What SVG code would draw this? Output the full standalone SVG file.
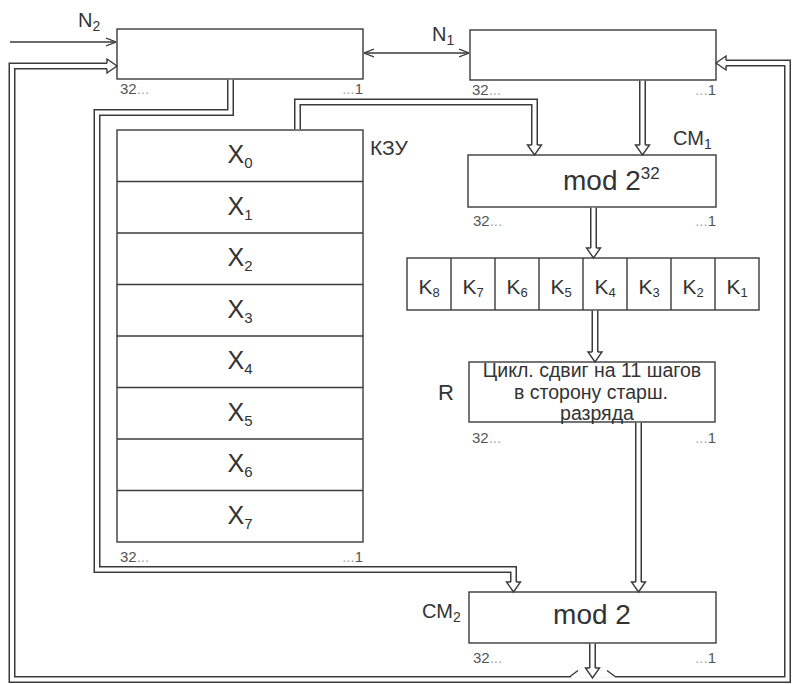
<svg xmlns="http://www.w3.org/2000/svg" xmlns:xlink="http://www.w3.org/1999/xlink" width="792" height="684" viewBox="0 0 792 684">
<style>
.bx{fill:#fff;stroke:#3a3a3a;stroke-width:1.4}
.ln{fill:none;stroke:#3a3a3a;stroke-width:1.4}
.dd{fill:none;stroke:#3a3a3a;stroke-width:7;stroke-linejoin:miter}
.dw{fill:none;stroke:#fff;stroke-width:4;stroke-linejoin:miter}
text{font-family:"Liberation Sans",Arial,sans-serif;fill:#333}
.big{font-size:25px}
.k{font-size:21px}
.n{font-size:15px;fill:#555}
.dots{fill:#aaa}
.lab{font-size:20px}
.r{font-size:19.5px}
</style>
<defs>
<g id="hh">
<path d="M-7,-10 L0,0 L7,-10 Z" fill="#fff"/>
<path d="M-2.75,-10 H-7 L0,0 L7,-10 H2.75" fill="none" stroke="#3a3a3a" stroke-width="1.4"/>
</g>
<marker id="oa" viewBox="0 0 10 10" refX="10" refY="5" markerWidth="10" markerHeight="10" markerUnits="userSpaceOnUse" orient="auto-start-reverse">
<path d="M0,1 L10,5 L0,9" fill="none" stroke="#3a3a3a" stroke-width="1.3"/>
</marker>
</defs>
<rect width="792" height="684" fill="#fff"/>

<g id="reg-n2">
<rect class="bx" x="117" y="29" width="246" height="50"/>
<text class="lab" x="78" y="27">N<tspan font-size="14" dy="4">2</tspan></text>
<text class="n" x="120" y="94">32<tspan class="dots">...</tspan></text>
<text class="n" x="363" y="94" text-anchor="end"><tspan class="dots">...</tspan>1</text>
</g>

<g id="reg-n1">
<rect class="bx" x="470" y="30" width="246" height="50"/>
<text class="lab" x="432" y="41">N<tspan font-size="14" dy="4">1</tspan></text>
<text class="n" x="472" y="95">32<tspan class="dots">...</tspan></text>
<text class="n" x="716" y="95" text-anchor="end"><tspan class="dots">...</tspan>1</text>
</g>

<g id="kzu">
<rect class="bx" x="117" y="130" width="246" height="412"/>
<path class="ln" d="M117,181.5 H363 M117,233 H363 M117,284.5 H363 M117,336 H363 M117,387.5 H363 M117,439 H363 M117,490.5 H363"/>
<text class="big" x="240" y="163" text-anchor="middle">X<tspan font-size="15" dy="5">0</tspan></text>
<text class="big" x="240" y="215" text-anchor="middle">X<tspan font-size="15" dy="5">1</tspan></text>
<text class="big" x="240" y="266" text-anchor="middle">X<tspan font-size="15" dy="5">2</tspan></text>
<text class="big" x="240" y="318" text-anchor="middle">X<tspan font-size="15" dy="5">3</tspan></text>
<text class="big" x="240" y="369" text-anchor="middle">X<tspan font-size="15" dy="5">4</tspan></text>
<text class="big" x="240" y="421" text-anchor="middle">X<tspan font-size="15" dy="5">5</tspan></text>
<text class="big" x="240" y="472" text-anchor="middle">X<tspan font-size="15" dy="5">6</tspan></text>
<text class="big" x="240" y="524" text-anchor="middle">X<tspan font-size="15" dy="5">7</tspan></text>
<text x="370" y="155" font-size="21">КЗУ</text>
<text class="n" x="120" y="562">32<tspan class="dots">...</tspan></text>
<text class="n" x="363" y="562" text-anchor="end"><tspan class="dots">...</tspan>1</text>
</g>

<g id="cm1">
<rect class="bx" x="468" y="155" width="248" height="52"/>
<text x="563" y="190" font-size="28">mod 2<tspan font-size="17" dy="-11">32</tspan></text>
<text class="lab" x="673" y="145">СМ<tspan font-size="14" dy="4">1</tspan></text>
<text class="n" x="473" y="226">32<tspan class="dots">...</tspan></text>
<text class="n" x="716" y="226" text-anchor="end"><tspan class="dots">...</tspan>1</text>
</g>

<g id="kblock">
<rect class="bx" x="407" y="258" width="352" height="52"/>
<path class="ln" d="M451,258 V310 M495,258 V310 M539,258 V310 M583,258 V310 M627,258 V310 M671,258 V310 M715,258 V310"/>
<text class="k" x="429" y="294" text-anchor="middle">K<tspan font-size="13" dy="3">8</tspan></text>
<text class="k" x="473" y="294" text-anchor="middle">K<tspan font-size="13" dy="3">7</tspan></text>
<text class="k" x="517" y="294" text-anchor="middle">K<tspan font-size="13" dy="3">6</tspan></text>
<text class="k" x="561" y="294" text-anchor="middle">K<tspan font-size="13" dy="3">5</tspan></text>
<text class="k" x="605" y="294" text-anchor="middle">K<tspan font-size="13" dy="3">4</tspan></text>
<text class="k" x="649" y="294" text-anchor="middle">K<tspan font-size="13" dy="3">3</tspan></text>
<text class="k" x="693" y="294" text-anchor="middle">K<tspan font-size="13" dy="3">2</tspan></text>
<text class="k" x="737" y="294" text-anchor="middle">K<tspan font-size="13" dy="3">1</tspan></text>
</g>

<g id="rot">
<rect class="bx" x="469" y="362" width="246" height="60"/>
<text class="r" x="592" y="377" text-anchor="middle">Цикл. сдвиг на 11 шагов</text>
<text class="r" x="591" y="399" text-anchor="middle">в сторону старш.</text>
<text class="r" x="597" y="420" text-anchor="middle">разряда</text>
<text x="438" y="400" font-size="22">R</text>
<text class="n" x="472" y="443">32<tspan class="dots">...</tspan></text>
<text class="n" x="716" y="443" text-anchor="end"><tspan class="dots">...</tspan>1</text>
</g>

<g id="cm2">
<rect class="bx" x="469" y="592" width="247" height="51"/>
<text x="592" y="624" font-size="28" text-anchor="middle">mod 2</text>
<text class="lab" x="422" y="618">СМ<tspan font-size="14" dy="4">2</tspan></text>
<text class="n" x="473" y="663">32<tspan class="dots">...</tspan></text>
<text class="n" x="716" y="663" text-anchor="end"><tspan class="dots">...</tspan>1</text>
</g>

<g id="connectors">
<line class="ln" x1="10" y1="42" x2="116" y2="42" marker-end="url(#oa)"/>
<line class="ln" x1="364" y1="53" x2="469" y2="53" marker-start="url(#oa)" marker-end="url(#oa)"/>

<path class="dd" d="M107,66 H12 V679.5 H787.5 V63 H726"/>
<path class="dw" d="M107,66 H12 V679.5 H787.5 V63 H726"/>
<use xlink:href="#hh" transform="translate(117,66) rotate(-90)"/>
<use xlink:href="#hh" transform="translate(716,63) rotate(90)"/>

<path class="dd" d="M230.5,79.7 V112.5 H97 V569.5 H513.5 V582"/>
<path class="dw" d="M230.5,79.7 V112.5 H97 V569.5 H513.5 V582"/>
<use xlink:href="#hh" transform="translate(513.5,592)"/>

<path class="dd" d="M297.5,129.3 V102 H534.5 V145"/>
<path class="dw" d="M297.5,129.3 V102 H534.5 V145"/>
<use xlink:href="#hh" transform="translate(534.5,155)"/>

<path class="dd" d="M642.5,80.7 V145"/>
<path class="dw" d="M642.5,80.7 V145"/>
<use xlink:href="#hh" transform="translate(642.5,155)"/>

<path class="dd" d="M593.5,207.7 V248"/>
<path class="dw" d="M593.5,207.7 V248"/>
<use xlink:href="#hh" transform="translate(593.5,258)"/>

<path class="dd" d="M595,310.7 V352"/>
<path class="dw" d="M595,310.7 V352"/>
<use xlink:href="#hh" transform="translate(595,362)"/>

<path class="dd" d="M638.5,422.7 V582"/>
<path class="dw" d="M638.5,422.7 V582"/>
<use xlink:href="#hh" transform="translate(638.5,592)"/>

<rect x="571" y="675.3" width="44" height="2.6" fill="#fff"/>
<path class="dd" d="M592.5,643.7 V668"/>
<path class="dw" d="M592.5,643.7 V669"/>
<use xlink:href="#hh" transform="translate(592.5,678)"/>
<path class="ln" d="M578,670.5 L570,676.5 M607,670.5 L615,676.5"/>
</g>
</svg>
